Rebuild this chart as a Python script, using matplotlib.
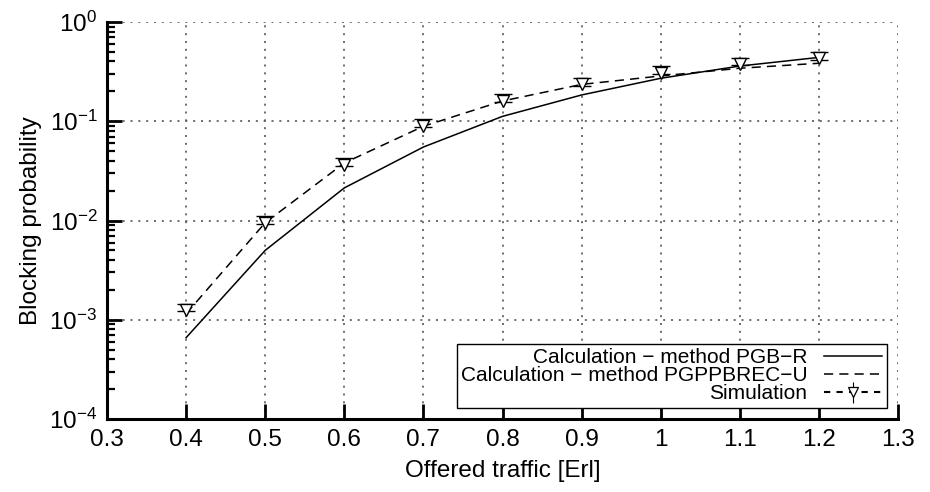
import numpy as np
import matplotlib
matplotlib.use('Agg')
import matplotlib.pyplot as plt

plt.rcParams['font.family'] = ['Liberation Sans', 'DejaVu Sans']

traffic = [0.4, 0.5, 0.6, 0.7, 0.8, 0.9, 1.0, 1.1, 1.2]
pgb_r = [6.6e-4, 5.0e-3, 0.0213, 0.055, 0.112, 0.184, 0.271, 0.36, 0.44]
pgppbrec_u = [1.15e-3, 9.5e-3, 0.038, 0.089, 0.16, 0.235, 0.286, 0.342, 0.384]
simulation = [1.25e-3, 9.5e-3, 0.0366, 0.090, 0.161, 0.236, 0.309, 0.377, 0.43]
# relative confidence interval (lower, upper)
sim_err_lo = [0.03, 0.03, 0.03, 0.03, 0.03, 0.03, 0.03, 0.03, 0.03]
sim_err_hi = [0.16, 0.16, 0.16, 0.16, 0.16, 0.16, 0.16, 0.16, 0.16]

xticks = [0.3, 0.4, 0.5, 0.6, 0.7, 0.8, 0.9, 1, 1.1, 1.2, 1.3]
xtick_labels = ['0.3', '0.4', '0.5', '0.6', '0.7', '0.8', '0.9', '1', '1.1', '1.2', '1.3']

fig = plt.figure(figsize=(9.3, 4.92), dpi=100)
ax = fig.add_axes([107/930, 1-419/492, (898-107)/930, (419-22)/492])

sim = np.array(simulation)
yerr = [sim*np.array(sim_err_lo), sim*np.array(sim_err_hi)]

l1, = ax.plot(traffic, pgb_r, '-', color='k', lw=1.1)
l2, = ax.plot(traffic, pgppbrec_u, color='k', lw=1.1, ls=(0, (6, 4)))
ax.errorbar(traffic, simulation, yerr=yerr, fmt='v', ls='none', color='k',
            mfc='white', mec='k', ms=9, mew=1.0, elinewidth=1.0, capsize=6.5, capthick=2,
            zorder=3)
# proxy for the legend entry
l3 = ax.errorbar([], [], yerr=[], fmt='v', ls=(0, (3, 3)), color='k', mfc='white',
                 mec='k', ms=7, mew=0.9, elinewidth=0.8, capsize=0)

ax.set_yscale('log')
ax.set_xlim(0.3, 1.3)
ax.set_ylim(1e-4, 1)
ax.set_xticks(xticks)
ax.set_xticklabels(xtick_labels)

ax.grid(True, which='major', ls=(0, (1.2, 3.5)), color='#555555', lw=1.2)
ax.spines['top'].set_visible(False)
ax.spines['right'].set_visible(False)
ax.spines['left'].set_linewidth(2.2)
ax.spines['bottom'].set_linewidth(2.2)
ax.tick_params(which='major', direction='in', length=11, width=2, labelsize=17.5, pad=7)
ax.tick_params(which='minor', direction='in', length=6, width=1.6)
ax.tick_params(axis='x', which='minor', length=0)

ax.set_xlabel('Offered traffic [Erl]', fontsize=17.5, labelpad=7)
ax.set_ylabel('Blocking probability', fontsize=17.5, labelpad=5)

leg = ax.legend([l1, l2, l3], ['Calculation \u2212 method PGB\u2212R',
                               'Calculation \u2212 method PGPPBREC\u2212U',
                               'Simulation'],
                loc='lower right', markerfirst=False, fontsize=15, fancybox=False,
                framealpha=1, edgecolor='k', handlelength=2.8, labelspacing=-0.05,
                borderaxespad=0.55, borderpad=0.2, handletextpad=0.8)
leg.get_frame().set_linewidth(1.0)

plt.savefig('out.png', dpi=100)
